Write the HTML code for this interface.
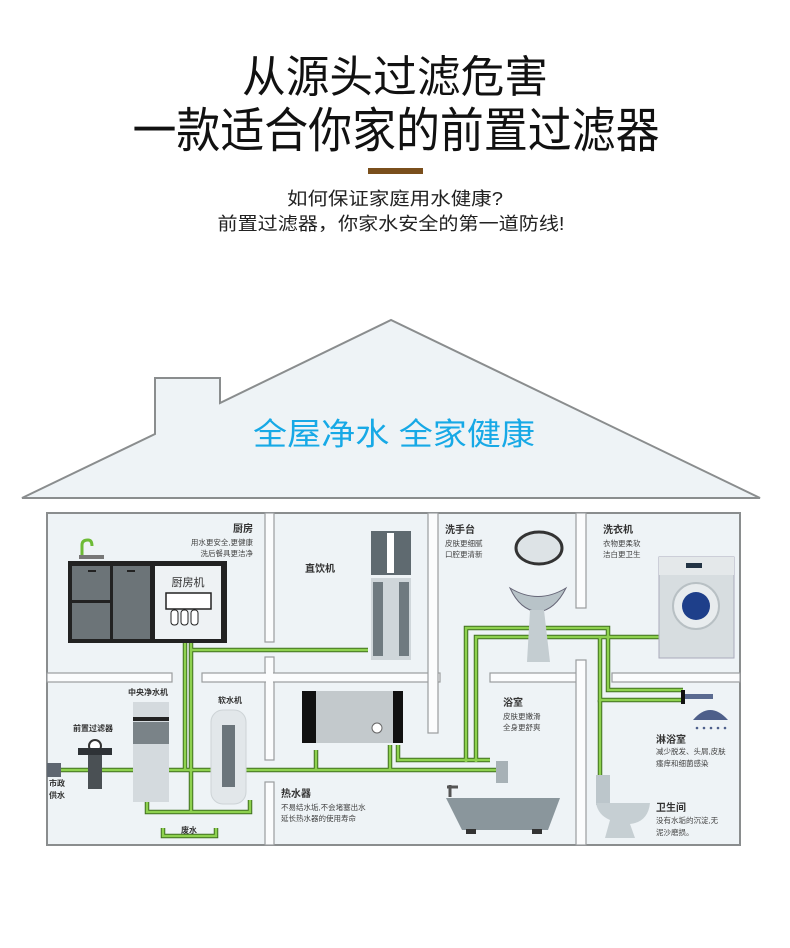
<!DOCTYPE html>
<html><head><meta charset="utf-8"><style>
html,body{margin:0;padding:0;background:#fff}
body{width:790px;height:943px;overflow:hidden;font-family:"Liberation Sans","Noto Sans CJK SC",sans-serif}
</style></head><body>
<svg width="790" height="943" viewBox="0 0 790 943" xmlns="http://www.w3.org/2000/svg" font-family="'Liberation Sans','Noto Sans CJK SC',sans-serif">
<rect width="790" height="943" fill="#fff"/>
<text x="395" y="92" font-size="44" text-anchor="middle" fill="#111" textLength="306" lengthAdjust="spacingAndGlyphs">从源头过滤危害</text>
<text x="396" y="147" font-size="48" text-anchor="middle" fill="#111" textLength="527" lengthAdjust="spacingAndGlyphs">一款适合你家的前置过滤器</text>
<rect x="368" y="168" width="55" height="6" fill="#7a4f1c"/>
<text x="395" y="205" font-size="18" text-anchor="middle" fill="#222" textLength="216" lengthAdjust="spacingAndGlyphs">如何保证家庭用水健康?</text>
<text x="391" y="230" font-size="18" text-anchor="middle" fill="#222" textLength="347" lengthAdjust="spacingAndGlyphs">前置过滤器，你家水安全的第一道防线!</text>

<!-- roof -->
<polygon points="22,498 155,434 155,378 220,378 220,403 391,320 760,498" fill="#eef3f6" stroke="#8a8d8e" stroke-width="2"/>
<text x="394" y="445" font-size="31" text-anchor="middle" fill="#17a9e6" textLength="282" lengthAdjust="spacingAndGlyphs">全屋净水  全家健康</text>

<!-- house body -->
<rect x="47" y="513" width="693" height="332" fill="#eef3f6" stroke="#8a8d8e" stroke-width="2"/>
<g fill="#fbfcfd" stroke="#9a9d9e" stroke-width="1.2">
<rect x="265" y="513" width="9" height="129"/>
<rect x="265" y="657" width="9" height="103"/>
<rect x="265" y="782" width="9" height="63"/>
<rect x="47" y="673" width="125" height="9"/>
<rect x="202" y="673" width="238" height="9"/>
<rect x="428" y="513" width="10" height="220"/>
<rect x="490" y="673" width="92" height="9"/>
<rect x="576" y="513" width="10" height="95"/>
<rect x="576" y="660" width="10" height="185"/>
<rect x="612" y="673" width="128" height="9"/>
</g>
<rect x="266" y="670" width="7" height="16" fill="#fbfcfd"/>
<rect x="429" y="670" width="8" height="16" fill="#fbfcfd"/>
<rect x="577" y="670" width="8" height="16" fill="#fbfcfd"/>

<!-- pipes -->
<g fill="none" stroke="#3e6e1f" stroke-width="4.5" stroke-linejoin="miter">
<path d="M60,770 H500"/>
<path d="M185,643 V770"/><path d="M191,643 V812"/>
<path d="M191,650 H368"/>
<path d="M147,800 V812 H250 V800"/>
<path d="M163,828 V836 H216 V828"/>
<path d="M316,770 V750"/><path d="M390,770 V745"/>
<path d="M398,745 V760 H490"/>
<path d="M466,762 V628 H608 V690 H683"/>
<path d="M476,762 V637 H660"/>
<path d="M600,638 V700 H683"/>
<path d="M600,700 V775"/>
</g>
<g fill="none" stroke="#8ed14f" stroke-width="2.5">
<path d="M60,770 H500"/>
<path d="M185,643 V770"/><path d="M191,643 V812"/>
<path d="M191,650 H368"/>
<path d="M147,800 V812 H250 V800"/>
<path d="M163,828 V836 H216 V828"/>
<path d="M316,770 V750"/><path d="M390,770 V745"/>
<path d="M398,745 V760 H490"/>
<path d="M466,762 V628 H608 V690 H683"/>
<path d="M476,762 V637 H660"/>
<path d="M600,638 V700 H683"/>
<path d="M600,700 V775"/>
</g>

<!-- kitchen -->
<path d="M82,556 V545 Q82,540 88,540 Q92,540 92,546" stroke="#6dbb36" stroke-width="3" fill="none"/>
<rect x="79" y="555" width="25" height="4" fill="#777"/>
<rect x="68" y="561" width="159" height="82" fill="#222"/>
<rect x="72" y="566" width="38" height="34" fill="#6c7478"/>
<rect x="72" y="603" width="38" height="36" fill="#6c7478"/>
<rect x="113" y="566" width="37" height="73" fill="#6c7478"/>
<rect x="155" y="566" width="66" height="73" fill="#eef2f4"/>
<rect x="88" y="570" width="8" height="2" fill="#222"/><rect x="127" y="570" width="8" height="2" fill="#222"/>
<text x="188" y="586" font-size="11" text-anchor="middle" fill="#333">厨房机</text>
<rect x="166" y="593" width="45" height="16" fill="#fff" stroke="#222" stroke-width="1.5"/>
<rect x="171" y="610" width="7" height="15" rx="3" fill="#fff" stroke="#222"/>
<rect x="181" y="610" width="7" height="15" rx="3" fill="#fff" stroke="#222"/>
<rect x="191" y="610" width="7" height="15" rx="3" fill="#fff" stroke="#222"/>
<text x="253" y="532" font-size="10" font-weight="bold" text-anchor="end" fill="#333">厨房</text>
<text x="253" y="545" font-size="7.5" text-anchor="end" fill="#444">用水更安全,更健康</text>
<text x="253" y="556" font-size="7.5" text-anchor="end" fill="#444">洗后餐具更洁净</text>

<!-- 直饮机 -->
<text x="320" y="572" font-size="10" font-weight="bold" text-anchor="middle" fill="#333">直饮机</text>
<rect x="371" y="531" width="40" height="44" fill="#5f6a70"/>
<rect x="387" y="533" width="7" height="40" fill="#fff"/>
<rect x="371" y="578" width="40" height="82" fill="#cfd6da"/>
<rect x="373" y="582" width="10" height="74" fill="#6f7a80"/><rect x="399" y="582" width="10" height="74" fill="#6f7a80"/>

<!-- basin -->
<text x="445" y="533" font-size="10" font-weight="bold" fill="#333">洗手台</text>
<text x="445" y="546" font-size="7.5" fill="#444">皮肤更细腻</text>
<text x="445" y="557" font-size="7.5" fill="#444">口腔更清新</text>
<ellipse cx="539" cy="548" rx="23" ry="16" fill="#dde3e6" stroke="#333" stroke-width="3"/>
<path d="M510,588 Q538,605 566,588 Q555,610 538,612 Q520,610 510,588Z" fill="#b8c3c8" stroke="#667" stroke-width="1"/>
<path d="M530,610 L527,662 L550,662 L544,610Z" fill="#c4cdd1"/>

<!-- washer -->
<text x="603" y="533" font-size="10" font-weight="bold" fill="#333">洗衣机</text>
<text x="603" y="546" font-size="7.5" fill="#444">衣物更柔软</text>
<text x="603" y="557" font-size="7.5" fill="#444">洁白更卫生</text>
<rect x="659" y="557" width="75" height="101" fill="#d7dde0" stroke="#aab" stroke-width="1"/>
<rect x="659" y="557" width="75" height="18" fill="#e4e8ea"/>
<rect x="686" y="563" width="16" height="5" fill="#234"/>
<circle cx="696" cy="606" r="23" fill="#e8ecee" stroke="#b8c0c4" stroke-width="2"/>
<circle cx="696" cy="606" r="14" fill="#1e3f8a"/>

<!-- left lower -->
<text x="128" y="695" font-size="8" font-weight="bold" fill="#333">中央净水机</text>
<rect x="133" y="702" width="36" height="100" fill="#d4dade"/>
<rect x="133" y="717" width="36" height="4" fill="#222"/>
<rect x="133" y="722" width="36" height="22" fill="#7a8388"/>
<text x="73" y="731" font-size="8" font-weight="bold" fill="#333">前置过滤器</text>
<circle cx="95" cy="746" r="6" fill="#fff" stroke="#333" stroke-width="2"/>
<rect x="78" y="748" width="34" height="7" fill="#2e3236"/>
<rect x="88" y="755" width="14" height="34" fill="#4a5054"/>
<rect x="47" y="763" width="14" height="14" fill="#5e6670"/>
<text x="49" y="786" font-size="8" font-weight="bold" fill="#333">市政</text>
<text x="49" y="798" font-size="8" font-weight="bold" fill="#333">供水</text>
<text x="218" y="703" font-size="8" font-weight="bold" fill="#333">软水机</text>
<rect x="211" y="710" width="35" height="94" rx="12" fill="#e2e7ea" stroke="#cdd3d6"/>
<rect x="222" y="725" width="13" height="62" fill="#6b757b"/>
<text x="189" y="833" font-size="8" font-weight="bold" text-anchor="middle" fill="#333">废水</text>

<!-- heater -->
<rect x="302" y="691" width="100" height="52" fill="#c3c9cc"/>
<rect x="302" y="691" width="14" height="52" fill="#111"/>
<rect x="393" y="691" width="10" height="52" fill="#111"/>
<circle cx="377" cy="728" r="5" fill="#fff" stroke="#666"/>
<text x="281" y="797" font-size="10" font-weight="bold" fill="#333">热水器</text>
<text x="281" y="810" font-size="7.5" fill="#444">不易结水垢,不会堵塞出水</text>
<text x="281" y="821" font-size="7.5" fill="#444">延长热水器的使用寿命</text>

<!-- bath -->
<text x="503" y="706" font-size="10" font-weight="bold" fill="#333">浴室</text>
<text x="503" y="719" font-size="7.5" fill="#444">皮肤更嫩滑</text>
<text x="503" y="730" font-size="7.5" fill="#444">全身更舒爽</text>
<rect x="496" y="761" width="12" height="22" fill="#a7b1b6"/>
<path d="M446,798 H560 L548,830 H462Z" fill="#8a969c"/>
<rect x="466" y="829" width="10" height="5" fill="#333"/><rect x="532" y="829" width="10" height="5" fill="#333"/>
<path d="M447,787 H458 M450,785 V797" stroke="#555" stroke-width="3"/>

<!-- shower -->
<rect x="681" y="690" width="4" height="14" fill="#111"/>
<rect x="685" y="694" width="28" height="5" fill="#5a6a90"/>
<path d="M693,720 Q710,700 728,720Z" fill="#4e5f8a"/>
<g fill="#4e5f8a"><circle cx="697" cy="728" r="1.3"/><circle cx="704" cy="728" r="1.3"/><circle cx="711" cy="728" r="1.3"/><circle cx="718" cy="728" r="1.3"/><circle cx="725" cy="728" r="1.3"/></g>
<text x="656" y="743" font-size="10" font-weight="bold" fill="#333">淋浴室</text>
<text x="656" y="754" font-size="7.5" fill="#444">减少脱发、头屑,皮肤</text>
<text x="656" y="766" font-size="7.5" fill="#444">瘙痒和细菌感染</text>

<!-- toilet -->
<rect x="596" y="775" width="14" height="30" fill="#bcc6cb"/>
<path d="M596,803 H650 Q648,822 630,824 L635,838 H605 L610,820 Q598,815 596,803Z" fill="#c6cfd3"/>
<text x="656" y="811" font-size="10" font-weight="bold" fill="#333">卫生间</text>
<text x="656" y="823" font-size="7.5" fill="#444">没有水垢的沉淀,无</text>
<text x="656" y="835" font-size="7.5" fill="#444">泥沙磨损。</text>
</svg>
</body></html>
